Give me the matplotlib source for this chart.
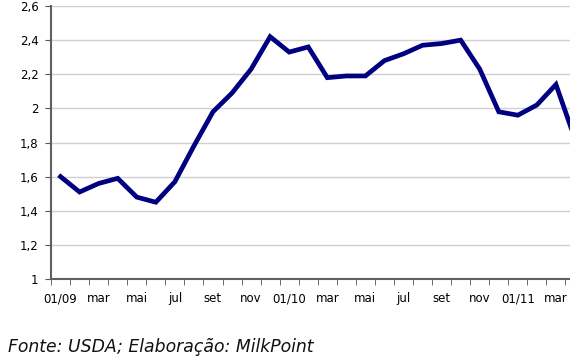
import matplotlib.pyplot as plt
import numpy as np

months = ["01/09", "fev", "mar", "abr", "mai", "jun", "jul", "ago", "set", "out", "nov", "dez",
          "01/10", "fev", "mar", "abr", "mai", "jun", "jul", "ago", "set", "out", "nov", "dez",
          "01/11", "fev", "mar", "abr"]
prices = [1.60, 1.51, 1.56, 1.59, 1.48, 1.45, 1.57, 1.78, 1.98, 2.09, 2.23, 2.42,
          2.33, 2.36, 2.18, 2.19, 2.19, 2.28, 2.32, 2.37, 2.38, 2.40, 2.23, 1.98,
          1.96, 2.02, 2.14, 1.82]
yticks = [1, 1.2, 1.4, 1.6, 1.8, 2, 2.2, 2.4, 2.6]
ylabels = ["1", "1,2", "1,4", "1,6", "1,8", "2", "2,2", "2,4", "2,6"]

fig = plt.figure(figsize=(5.70, 3.59), dpi=100)
ax = fig.add_axes([0.0895, 0.2228, 0.936, 0.7605])

x = np.arange(len(prices))
ax.plot(x, prices, color="#000080", lw=3.4, solid_joinstyle="miter", clip_on=False, zorder=3)

ax.set_xlim(-0.5, len(prices) - 0.5)
ax.set_ylim(1, 2.6)
ax.set_yticks(yticks)
ax.set_yticklabels(ylabels, fontsize=8.5)
ax.grid(axis="y", color="#d0d0d0", lw=1)
ax.set_axisbelow(True)

ax.set_xticks(x[::2])
ax.set_xticklabels(months[::2], fontsize=8.5)
ax.set_xticks(np.arange(len(prices) + 1) - 0.5, minor=True)
ax.tick_params(axis="x", which="major", length=0, pad=9.5)
ax.tick_params(axis="x", which="minor", length=4, color="#555555")
ax.tick_params(axis="y", length=4, color="#555555", pad=5)

for s in ["top", "right"]:
    ax.spines[s].set_visible(False)
for s in ["left", "bottom"]:
    ax.spines[s].set_color("#606060")
    ax.spines[s].set_linewidth(1.5)

fig.text(0.014, 0.033, "Fonte: USDA; Elaboração: MilkPoint", fontsize=12.4, style="italic",
         color="#111111", va="center")

fig.savefig("out.png", dpi=100)
